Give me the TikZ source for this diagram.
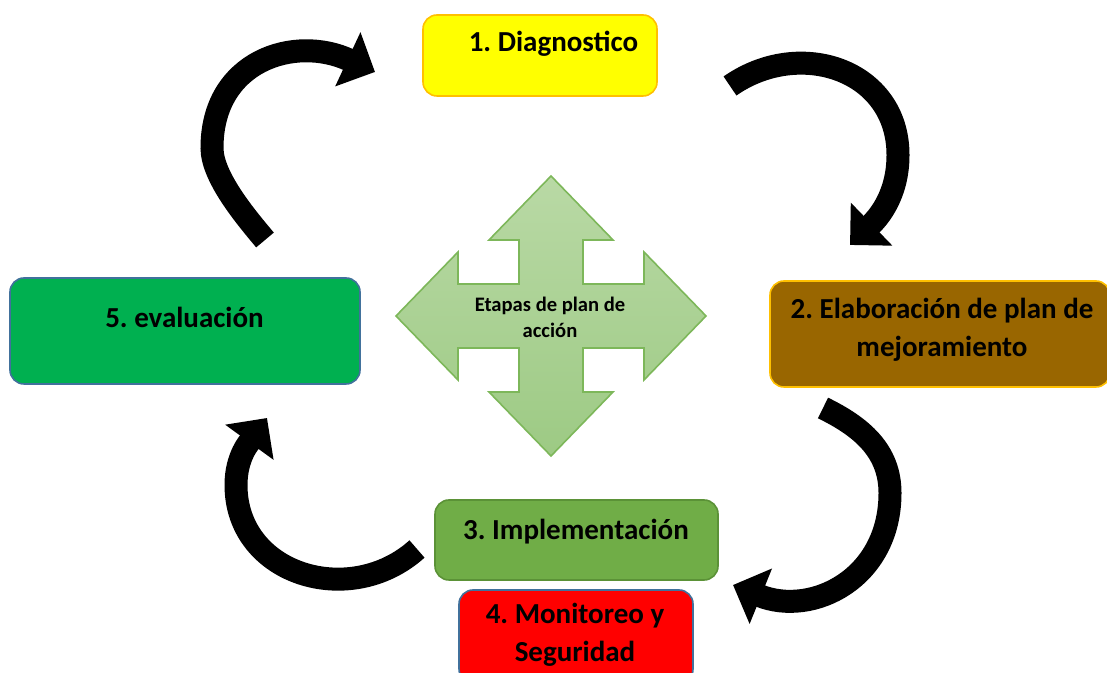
\documentclass[tikz,border=0pt]{standalone}
\usepackage{fontspec}
\setmainfont{Carlito}
\usetikzlibrary{arrows.meta}
\frenchspacing

\definecolor{amarillo}{HTML}{FFFF00}
\definecolor{cafe}{HTML}{996600}
\definecolor{verdeimp}{HTML}{70AD47}
\definecolor{rojo}{HTML}{FF0000}
\definecolor{verdeeva}{HTML}{00B050}
\definecolor{dorado}{HTML}{FFC000}
\definecolor{verdeosc}{HTML}{5B9237}
\definecolor{azulgris}{HTML}{41719C}
\definecolor{cruzarriba}{HTML}{B9D9A5}
\definecolor{cruzabajo}{HTML}{9DCA84}
\definecolor{cruzborde}{HTML}{7DB75A}

\tikzset{
  caja/.style={draw, rounded corners=7pt, line width=0.8pt, inner sep=0pt},
  txt/.style={font=\bfseries\fontsize{14.5}{19}\selectfont, align=center, anchor=base, inner sep=0pt},
  curva/.style={->, line width=11.5pt},
}

\begin{document}
\begin{tikzpicture}[x=0.5pt,y=0.5pt,>={Triangle[length=15pt,width=29pt]}]
\useasboundingbox (0,0) rectangle (1107,673);

% cruz central
\draw[cruzborde, line width=0.8pt, top color=cruzarriba, bottom color=cruzabajo, shift={(551,357)}]
  (0,140) -- (62,76) -- (32,76) -- (32,32) -- (93,32) -- (93,64) -- (155,0)
  -- (93,-64) -- (93,-32) -- (32,-32) -- (32,-76) -- (62,-76) -- (0,-140)
  -- (-62,-76) -- (-32,-76) -- (-32,-32) -- (-93,-32) -- (-93,-64) -- (-155,0)
  -- (-93,64) -- (-93,32) -- (-32,32) -- (-32,76) -- (-62,76) -- cycle;
\node[font=\bfseries\fontsize{10.3}{13.3}\selectfont, align=center, anchor=base, inner sep=0pt] (ce) at (550,335) {Etapas de plan de\\acción};

% cajas
\node[caja, fill=amarillo, draw=dorado, minimum width=117pt, minimum height=40.5pt] (d1) at (540,617.5) {};
\node[caja, fill=cafe, draw=dorado, minimum width=170pt, minimum height=53pt] (d2) at (940,339) {};
\node[caja, fill=verdeimp, draw=verdeosc, minimum width=141.5pt, minimum height=40pt] (d3) at (576.5,133) {};
\node[caja, fill=rojo, draw=azulgris, minimum width=117pt, minimum height=46.5pt] (d4) at (576,36.5) {};
\node[caja, fill=verdeeva, draw=azulgris, minimum width=175pt, minimum height=53pt] (d5) at (185,342) {};

\node[txt] (t1) at (553.5,621) {1. Diagnostico};
\node[txt] (t2) at (942,316) {2. Elaboración de plan de\\mejoramiento};
\node[txt] (t3) at (576,133) {3. Implementación};
\node[txt] (t4) at (575,11) {4. Monitoreo y\\Seguridad};
\node[txt] (t5) at (184.5,345) {5. evaluación};

% flechas curvas
\coordinate (a1s) at (265,433);
\coordinate (a1m) at (212,525);
\coordinate (a1e) at (375,601);
\coordinate (a2s) at (730,587);
\coordinate (a2m) at (898,518);
\coordinate (a2e) at (850,428);
\coordinate (a3s) at (823,265);
\coordinate (a3m) at (890,180);
\coordinate (a3e) at (733,88);
\coordinate (a4s) at (417,124);
\coordinate (a4m) at (236,188);
\coordinate (a4e) at (267,255);

\draw[curva] (a1s) to[out=130,in=270,looseness=0.7] (a1m) to[out=90,in=155,looseness=1.25] (a1e);
\draw[curva] (a2s) to[out=35,in=90,looseness=1.2] (a2m) to[out=270,in=44] (a2e);
\draw[curva] (a3s) to[out=334,in=90] (a3m) to[out=270,in=338,looseness=1.2] (a3e);
\draw[curva] (a4s) to[out=222,in=270,looseness=1.2] (a4m) to[out=90,in=234] (a4e);
\end{tikzpicture}
\end{document}
